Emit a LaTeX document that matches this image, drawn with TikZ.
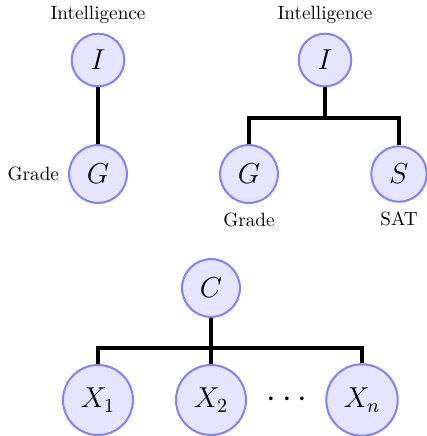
\documentclass[tikz,border=0pt]{standalone}
\usetikzlibrary{positioning}

\begin{document}
\begin{tikzpicture}[
  x=0.5pt, y=-0.5pt,
  var/.style  = {circle, draw=blue!50, fill=blue!10, line width=1pt, inner sep=5pt, font=\Large},
  lbl/.style  = {font=\fontsize{9.6}{11}\selectfont},
  link/.style = {line width=1.7pt}
]
\useasboundingbox (0,0) rectangle (427,436);

% ------------------------------------------------------------- I -> G --
\node[var] (I1) at (98,60)  {$I$};
\node[var] (G1) at (98,174) {$G$};
\node[lbl, above=1pt of I1] (tI1) {Intelligence};
\node[lbl, left=1pt of G1]  (tG1) {Grade};
\draw[link] (I1) -- (G1);

% -------------------------------------------------------- I -> G, S --
\node[var] (I2) at (325,60)  {$I$};
\node[var] (G2) at (249,174) {$G$};
\node[var] (S)  at (399,174) {$S$};
\node[lbl, above=1pt of I2] (tI2) {Intelligence};
\node[lbl, below=1pt of G2] (tG2) {Grade};
\node[lbl, below=1pt of S]  (tS)  {SAT};
\coordinate (jI) at (325,118);
\draw[link] (I2) -- (jI);
\draw[link] (G2) |- (jI) -| (S);

% --------------------------------------------------- C -> X1 ... Xn --
\node[var] (C)  at (211,288) {$C$};
\node[var] (X1) at (98,400)  {$X_1$};
\node[var] (X2) at (211,400) {$X_2$};
\node[font=\LARGE] (dots) at (287,400) {$\cdots$};
\node[var] (Xn) at (362,400) {$X_n$};
\coordinate (jC) at (211,348);
\draw[link] (C) -- (X2);
\draw[link] (X1) |- (jC) -| (Xn);

\end{tikzpicture}
\end{document}
